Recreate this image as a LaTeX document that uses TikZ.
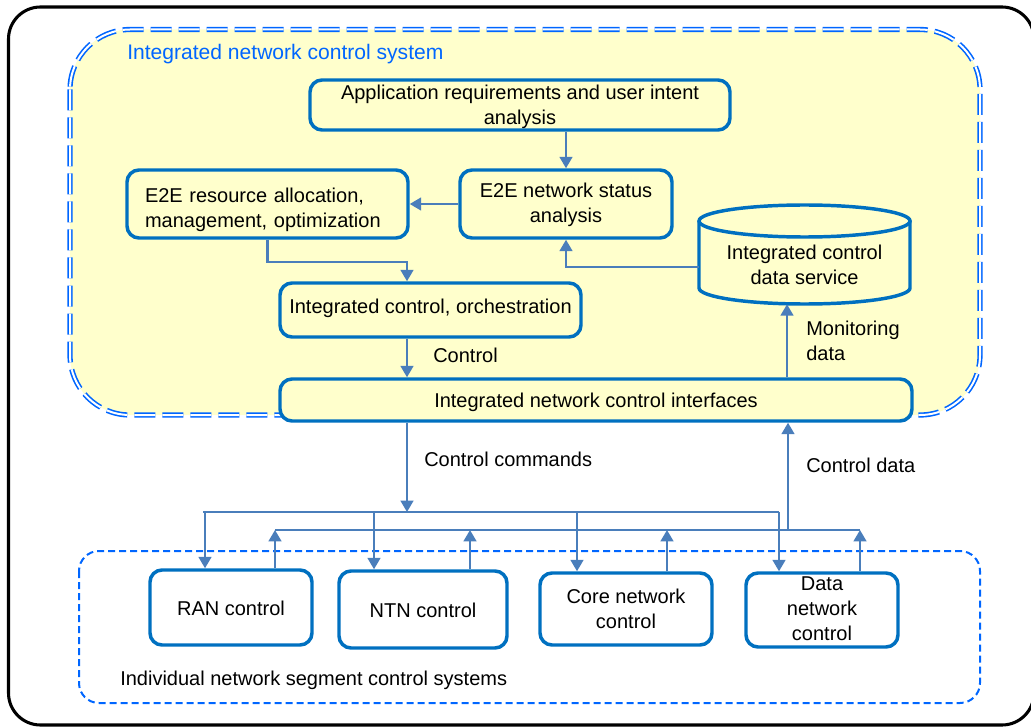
\documentclass[tikz,border=0pt]{standalone}
\usepackage{fontspec}
\setmainfont{Liberation Sans}
\usetikzlibrary{arrows.meta}
\definecolor{paleyellow}{HTML}{FFFFCC}
\definecolor{groupblue}{HTML}{0066FF}
\definecolor{boxblue}{HTML}{0070C0}
\definecolor{linkblue}{HTML}{4A7EBB}

\begin{document}
\begin{tikzpicture}[x=0.75pt,y=-0.75pt,
  font=\fontsize{15}{18.75}\selectfont,
  % text height sets where the last baseline sits: half of it below the centre
  box/.style={draw=boxblue, line width=2.6pt, rounded corners=9pt, fill=paleyellow,
    align=center, inner sep=0pt, text depth=0pt},
  segbox/.style={box, fill=white},
  link/.style={draw=linkblue, line width=1.7pt},
  arr/.style={link, -{Triangle[length=8.5pt,width=9.5pt]}},
  lbl/.style={anchor=base west, align=left, inner sep=0pt}]

\useasboundingbox (0,0) rectangle (1031,727);

% outer frame
\draw[line width=2.3pt, rounded corners=24pt] (8.5,7) rectangle (1034,725);

% integrated control system area (double dashed border)
\draw[fill=paleyellow, draw=groupblue, double=white, line width=1.2pt,
  double distance=1.5pt, dash pattern=on 15.75pt off 5.25pt, rounded corners=45pt]
  (70,29.5) rectangle (980,415);
\node[lbl, text=groupblue, font=\fontsize{15.8}{19}\selectfont] (systitle) at (127,60)
  {Integrated network control system};

% segment control systems area
\draw[draw=groupblue, line width=1.5pt, dash pattern=on 5.25pt off 3pt,
  rounded corners=15pt] (79,551) rectangle (980,703);
\node[lbl] (segtitle) at (120,685) {Individual network segment control systems};

% upper functional blocks
\node[box, minimum width=315pt, minimum height=37.5pt, text height=30pt] (app) at (520,105)
  {Application requirements and user intent\\analysis};
% fixed text width: the first baseline is the reference here
\node[box, minimum width=210.75pt, minimum height=51pt, text width=183.75pt, align=left,
  text height=0pt, text depth=1.5pt] (alloc) at (267.5,204)
  {E2E resource allocation,\\management, optimization};
\node[box, minimum width=159pt, minimum height=51pt, text height=28.5pt] (stat) at (566,204)
  {E2E network status\\analysis};
\node[box, minimum width=225.75pt, minimum height=40.5pt, text height=4.5pt] (orch) at (430.5,310)
  {Integrated control, orchestration};
\node[box, minimum width=474pt, minimum height=31.5pt, text height=10.5pt] (iface) at (596,400)
  {Integrated network control interfaces};

% data service cylinder
\path[fill=paleyellow, draw=boxblue, line width=2.6pt]
  (699,221) -- (699,288) arc[start angle=180, end angle=360, x radius=79.125pt, y radius=12pt]
  -- (910,221);
\draw[fill=paleyellow, draw=boxblue, line width=2.6pt]
  (804.5,221) ellipse[x radius=79.125pt, y radius=12pt];
\node[align=center, inner sep=0pt, minimum width=158.25pt, minimum height=74.25pt,
  text depth=0pt, text height=45.75pt] (db) at (804.5,254.5)
  {Integrated control\\data service};

% segment control blocks
\node[segbox, minimum width=121.5pt, minimum height=56.25pt, text height=11.25pt] (ran)
  at (231,607.5) {RAN control};
\node[segbox, minimum width=126pt, minimum height=57.75pt, text height=11.25pt] (ntn)
  at (423,609.5) {NTN control};
\node[segbox, minimum width=129pt, minimum height=54pt, text height=28.5pt] (core)
  at (626,609) {Core network\\control};
\node[segbox, minimum width=114pt, minimum height=55.5pt, text height=45pt] (dn)
  at (822,610) {Data\\network\\control};

% connectors inside the integrated system
\coordinate (spine) at (407,0);
\coordinate (mon) at (787,0);
\draw[arr] (stat.north |- app.south) -- (stat.north);
\draw[arr] (stat.west) -- (stat.west -| alloc.east);
\draw[arr] (alloc.south) -- ++(0,22) -| (spine |- orch.north);
\draw[arr] (spine |- orch.south) -- (spine |- iface.north);
\node[lbl] (ctl) at (433,362) {Control};
\draw[arr] ([yshift=-9.375pt]db.west) -| (stat.south);
\draw[arr] (mon |- iface.north) -- (mon |- db.south);
\node[lbl] (monlbl) at (806,360) {Monitoring\\data};

% command distribution bus
\coordinate (cmdbus) at (407,512);
\coordinate (d1) at (205,512);
\coordinate (d2) at (374,512);
\coordinate (d3) at (577,512);
\coordinate (d4) at (779,512);
\draw[arr] (spine |- iface.south) -- (cmdbus);
\node[lbl] (cmdlbl) at (424,466) {Control commands};
\draw[link] (203,512) -- (d4);
\draw[arr] (d1) -- (d1 |- ran.north);
\draw[arr] (d2) -- (d2 |- ntn.north);
\draw[arr] (d3) -- (d3 |- core.north);
\draw[arr] (d4) -- (d4 |- dn.north);

% data collection bus
\coordinate (u1) at (275,530);
\coordinate (u2) at (470,530);
\coordinate (u3) at (667,530);
\coordinate (u4) at (860,530);
\coordinate (cd) at (788,530);
\draw[link] (u1) -- (u4);
\draw[arr] (u1 |- ran.north) -- (u1);
\draw[arr] (u2 |- ntn.north) -- (u2);
\draw[arr] (u3 |- core.north) -- (u3);
\draw[arr] (u4 |- dn.north) -- (u4);
\draw[arr] (cd) -- (cd |- iface.south);
\node[lbl] (cdlbl) at (806,472) {Control data};

\end{tikzpicture}
\end{document}
